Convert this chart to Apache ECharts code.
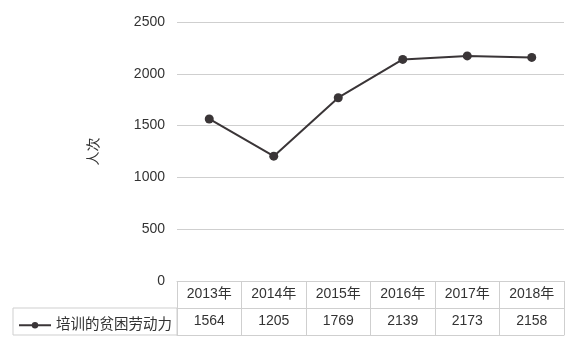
<!DOCTYPE html>
<html>
<head>
<meta charset="utf-8">
<script src="https://cdn.jsdelivr.net/npm/echarts@6/dist/echarts.min.js"></script>
<style>html,body{margin:0;padding:0;background:#fff;}#c{width:586px;height:348px;}</style>
</head>
<body>
<div id="c"></div>
<script>
const categories = ['2013年', '2014年', '2015年', '2016年', '2017年', '2018年'];
const seriesName = '培训的贫困劳动力';
const values = [1564, 1205, 1769, 2139, 2173, 2158];
const yTicks = { min: 0, max: 2500, interval: 500 };
const yName = '人次';

const FONT = '"Liberation Sans", "Noto Sans CJK SC", sans-serif';
const TXT = '#333';
const LINE = '#cfcfcf';
const chart = echarts.init(document.getElementById('c'));
chart.setOption({
  animation: false,
  textStyle: { fontFamily: FONT },
  grid: { left: 177, right: 22, top: 22, bottom: 67 },
  legend: {
    data: [seriesName], left: 13, top: 313, padding: [5, 5, 5, 5], itemWidth: 32, itemHeight: 8, itemGap: 0,
    textStyle: { fontSize: 14.5, color: TXT, fontFamily: FONT }
  },
  xAxis: [
    {
      type: 'category', data: categories, position: 'bottom', boundaryGap: true,
      axisLine: { show: true, lineStyle: { color: LINE, width: 1 } },
      axisTick: { show: true, length: 54, lineStyle: { color: LINE }, alignWithLabel: false },
      axisLabel: { margin: 6, fontSize: 14, color: TXT, fontFamily: FONT },
      splitLine: { show: false }
    },
    {
      type: 'category', data: values.map(String), position: 'bottom', offset: 27, boundaryGap: true,
      axisLine: { show: true, lineStyle: { color: LINE, width: 1 } },
      axisTick: { show: false },
      axisLabel: { margin: 6, fontSize: 14, color: TXT, fontFamily: FONT },
      splitLine: { show: false }
    },
    {
      type: 'category', data: categories, position: 'bottom', offset: 54, boundaryGap: true,
      axisLine: { show: true, lineStyle: { color: LINE, width: 1 } },
      axisTick: { show: false }, axisLabel: { show: false }, splitLine: { show: false }
    }
  ],
  yAxis: {
    type: 'value', min: yTicks.min, max: yTicks.max, interval: yTicks.interval,
    name: yName, nameLocation: 'middle', nameRotate: 90, nameGap: 76,
    nameTextStyle: { fontSize: 14, color: TXT, fontFamily: FONT },
    axisLine: { show: false }, axisTick: { show: false },
    axisLabel: { margin: 12, fontSize: 14, color: TXT, fontFamily: FONT, formatter: v => String(v) },
    splitLine: { lineStyle: { color: LINE, width: 1 } }
  },
  series: [{
    name: seriesName, type: 'line', xAxisIndex: 0, data: values,
    symbol: 'circle', symbolSize: 9,
    itemStyle: { color: '#3a3537' },
    lineStyle: { color: '#3a3537', width: 2 }
  }],
  graphic: [
    { type: 'rect', shape: { x: 13, y: 308, width: 164, height: 27 }, style: { fill: 'none', stroke: LINE, lineWidth: 1 }, silent: true }
  ]
});
</script>
</body>
</html>
